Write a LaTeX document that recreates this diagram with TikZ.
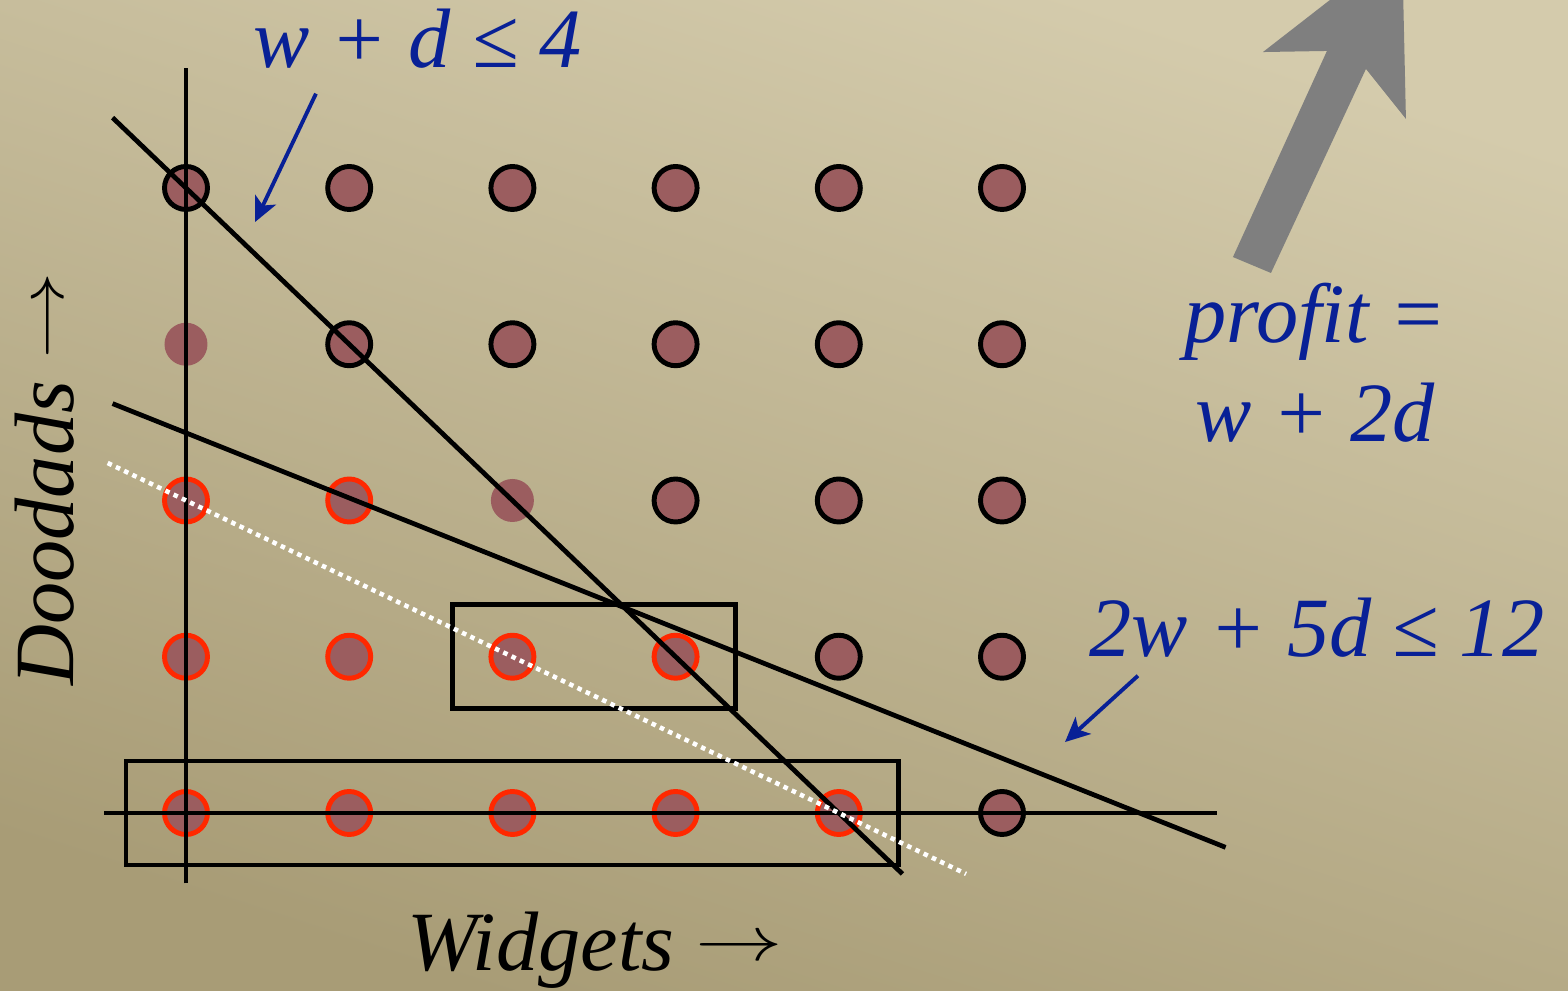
\documentclass[tikz,border=0pt]{standalone}
\usepackage{fontspec}
\setmainfont{Liberation Serif}
\usetikzlibrary{arrows.meta, fit}
\definecolor{paperlight}{RGB}{212,203,172}
\definecolor{paperdark}{RGB}{168,156,118}
\definecolor{dotfill}{RGB}{155,93,95}
\definecolor{ringred}{RGB}{255,40,0}
\definecolor{eqblue}{RGB}{8,32,150}
\definecolor{profitgray}{RGB}{127,127,127}
\newcommand{\axisarrow}{\raisebox{2.8pt}{\scalebox{1}[0.72]{\(\rightarrow\)}}}
\tikzstyle{infeasible} = [
    circle,
    minimum size=0.43cm,
    inner sep=0pt,
    fill=dotfill,
    draw=black,
    line width=1.4pt
]
\tikzstyle{feasible} = [
    infeasible,
    draw=ringred
]
\tikzstyle{unmarked} = [
    infeasible,
    draw=none
]
\tikzstyle{constraint} = [
    line width=1.35pt,
    draw=black
]
\tikzstyle{isoprofit} = [
    line width=1.3pt,
    draw=white,
    dash pattern=on 1.3pt off 1.3pt
]
\tikzstyle{groupbox} = [
    rectangle,
    draw=black,
    line width=1.35pt,
    inner xsep=0.6cm,
    inner ysep=0.52cm
]
\tikzstyle{eqn} = [
    text=eqblue,
    font=\fontsize{24}{28}\selectfont\itshape,
    inner sep=0pt
]
\tikzstyle{axisname} = [
    text=black,
    font=\fontsize{24}{28}\selectfont\itshape,
    inner sep=0pt
]
\tikzstyle{pointer} = [
    draw=eqblue,
    fill=eqblue,
    line width=1.1pt,
    -{Stealth[length=7pt,width=6.5pt,inset=1.8pt]}
]

\begin{document}
\begin{tikzpicture}[x=1.632cm, y=1.5625cm]

\useasboundingbox (-1.1397,-1.1392) rectangle (8.4681,5.2032);
\shade [top color=paperlight, bottom color=paperdark, shading angle=-18]
    (-1.1397,-1.1392) rectangle (8.4681,5.2032);

\foreach \w/\d in {0/0,1/0,2/0,3/0,4/0,0/1,1/1,2/1,3/1,0/2,1/2}
    \node (p\w\d) [feasible] at (\w,\d) {};
\foreach \w/\d in {5/0,4/1,5/1,3/2,4/2,5/2,1/3,2/3,3/3,4/3,5/3,0/4,1/4,2/4,3/4,4/4,5/4}
    \node (p\w\d) [infeasible] at (\w,\d) {};
\foreach \w/\d in {0/3,2/2}
    \node (p\w\d) [unmarked] at (\w,\d) {};

\node (bottomrow) [groupbox, fit=(p00.center) (p40.center)] {};
\node (middlepair) [groupbox, fit=(p21.center) (p31.center)] {};

\draw [constraint] (0,-0.45) -- (0,4.77);
\draw [constraint] (-0.5,0) -- (6.32,0);
\draw [constraint] (-0.45,4.45) -- (4.39,-0.39);
\draw [constraint] (-0.45,2.62) -- (6.37,-0.22);
\draw [isoprofit] (-0.48,2.24) -- (4.78,-0.39);

\fill [profitgray] (6.415,3.558) -- (6.648,3.456) -- (7.230,4.762)
    -- (7.475,4.442) -- (7.451,5.562) -- (6.599,4.870) -- (6.991,4.877) -- cycle;

\node (sumcap) [eqn, anchor=base] at (1.42,4.77) {w + d ≤ 4};
\node (mixcap) [eqn, anchor=base] at (6.93,1.0) {2w + 5d ≤ 12};
\node (profit) [eqn, align=center, anchor=base] at (6.92,2.38) {profit =\\w + 2d};

\node (widgets) [axisname, anchor=base] at (2.506,-1.005) {Widgets \axisarrow};
\node (doodads) [axisname, anchor=base, rotate=90] at (-0.692,2.138) {Doodads \axisarrow};

\coordinate (sumtip) at (0.423,3.782);
\coordinate (mixtip) at (5.386,0.454);
\draw [pointer] ([xshift=0.63cm, yshift=-0.26cm]sumcap.base west) -- (sumtip);
\draw [pointer] ([xshift=0.49cm, yshift=-0.19cm]mixcap.base west) -- (mixtip);

\end{tikzpicture}
\end{document}
